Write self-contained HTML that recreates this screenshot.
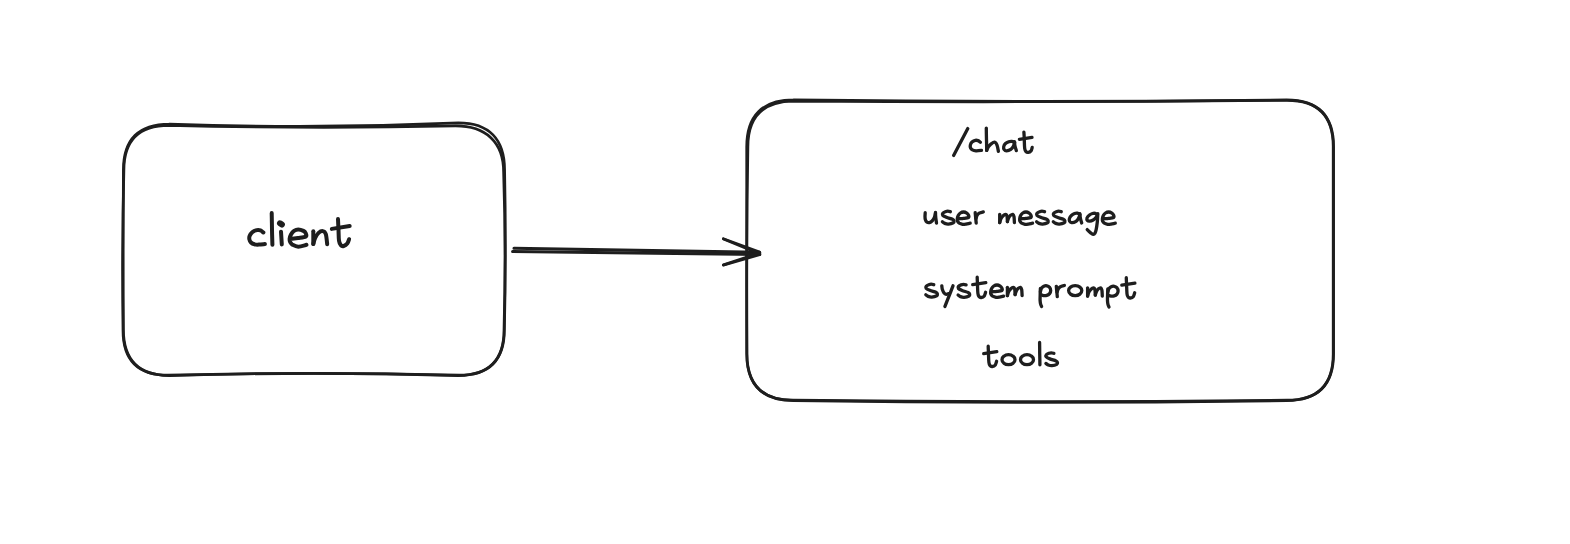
<!DOCTYPE html>
<html lang="en">
<head>
<meta charset="utf-8">
<title>client to /chat diagram</title>
<style>
html,body{margin:0;padding:0;background:#ffffff;}
body{width:1570px;height:544px;overflow:hidden;font-family:"Liberation Sans",sans-serif;}
svg{display:block;}
</style>
</head>
<body>
<svg width="1570" height="544" viewBox="0 0 1570 544" role="img" aria-label="client arrow to /chat: user message, system prompt, tools">
<rect width="1570" height="544" fill="#ffffff"/>
<g fill="none" stroke="#1e1e1e" stroke-linecap="round" stroke-linejoin="round">
<g stroke-width="2.7">
<path d="M169.4 124.0Q313.9 129.2 458.4 122.8C489.1 122.8 504.6 139.3 504.6 170.0Q506.2 249.8 504.4 329.6C504.4 360.3 489.1 375.6 458.4 375.6Q313.9 371.2 169.4 375.6C138.7 375.6 123.4 360.3 123.4 329.6Q123.0 249.8 123.4 170.0C123.4 139.3 138.7 124.0 169.4 124.0"/>
<path d="M168.8 125.4Q313.5 128.9 455.6 125.9C485.6 125.9 503.6 141.9 503.6 171.9Q506.2 249.8 504.0 330.2C504.0 360.2 489.0 375.2 459.0 375.2Q313.5 371.4 168.0 375.2C138.0 375.2 123.0 360.2 123.0 330.2Q121.8 249.8 123.9 170.0C123.9 140.0 138.8 125.4 168.8 125.4"/>
<path d="M793.7 99.9Q1040.2 102.9 1286.6 99.9C1317.9 99.9 1333.6 115.6 1333.6 146.9Q1333.2 250.2 1333.6 353.6C1333.6 384.9 1317.9 400.6 1286.6 400.6Q1040.2 404.2 793.7 400.6C762.4 400.6 746.7 384.9 746.7 353.6Q746.5 250.2 746.7 146.9C746.7 115.6 762.4 99.9 793.7 99.9"/>
<path d="M793.8 101.2Q1040.1 102.7 1287.2 100.3C1317.9 100.3 1333.2 115.6 1333.2 146.3Q1333.6 250.2 1333.2 354.2C1333.2 384.9 1317.9 400.2 1287.2 400.2Q1040.1 403.2 793.0 400.2C762.3 400.2 747.0 384.9 747.0 354.2Q746.2 250.2 747.9 146.8C747.9 116.1 763.1 101.2 793.8 101.2"/>
</g>
<g stroke-width="3.1">
<path d="M514.0 248.3Q640 250.5 759.6 252.4"/>
<path d="M512.6 251.5Q640 252.9 759.8 254.5"/>
</g>
<g stroke-width="2.7">
<path d="M723.3 238.7L759.6 252.0"/>
<path d="M723.5 238.9L759.9 254.0"/>
<path d="M723.3 265.1L759.6 254.6"/>
<path d="M723.5 264.9L759.9 252.8"/>
</g>
</g>
<g fill="none" stroke="#1e1e1e" stroke-linecap="round" stroke-linejoin="round">
<g stroke-width="4.0">
<path d="M263.4 232.5C262.9 232.2 261.6 230.8 260.5 230.4C259.4 230.0 258.3 229.8 257.0 230.1C255.7 230.4 253.7 231.0 252.5 232.0C251.3 233.0 250.1 234.8 249.6 236.0C249.1 237.2 249.2 238.4 249.4 239.5C249.6 240.6 250.2 241.7 251.0 242.5C251.8 243.3 253.2 244.0 254.5 244.3C255.8 244.7 257.3 244.7 259.0 244.6C260.7 244.5 263.9 244.1 264.9 244.0"/>
<path d="M271.7 213.1C271.8 215.9 271.9 224.6 272.0 229.9C272.1 235.2 272.3 242.3 272.4 244.8"/>
<path d="M281.0 231.7L281.8 244.4"/>
<path d="M290.2 238.9C291.5 238.8 295.4 238.4 298.0 238.0C300.6 237.6 304.5 237.3 305.8 236.5C307.1 235.7 306.0 233.9 305.6 233.0C305.2 232.1 304.6 231.5 303.4 230.9C302.2 230.3 299.9 229.5 298.3 229.5C296.7 229.5 295.2 230.1 294.0 230.9C292.8 231.7 291.7 233.2 291.0 234.5C290.3 235.8 289.7 237.5 289.6 238.8C289.5 240.1 289.8 241.3 290.3 242.3C290.8 243.3 291.1 244.0 292.4 244.7C293.7 245.4 295.9 246.7 298.3 246.7C300.7 246.7 305.1 245.1 306.5 244.8"/>
<path d="M313.3 231.3L313.3 244.0"/>
<path d="M313.3 244.0C313.6 243.0 314.2 240.0 315.1 238.2C316.0 236.3 317.3 234.1 318.6 232.9C319.9 231.7 321.6 230.9 322.8 231.1C324.0 231.3 325.1 231.9 325.8 234.1C326.5 236.3 327.0 242.5 327.2 244.2"/>
<path d="M338.0 219.1C338.1 220.9 338.3 226.3 338.5 229.9C338.7 233.5 338.6 238.1 339.0 240.6C339.4 243.1 340.0 244.3 340.8 245.2C341.6 246.1 342.6 246.3 343.7 246.0C344.8 245.7 346.4 244.7 347.3 243.6C348.2 242.5 348.8 239.9 349.1 239.2"/>
<path d="M331.8 228.9L349.7 226.0"/>
</g>
<g stroke-width="6.0">
<path d="M280.0 223.3L281.9 224.6"/>
</g>
<g stroke-width="3.3">
<path d="M967.8 128.6L953.6 155.4"/>
<path d="M980.4 142.3C980.0 142.0 978.8 140.9 978.0 140.6C977.2 140.3 976.4 140.1 975.4 140.3C974.4 140.5 972.9 141.2 972.0 142.0C971.1 142.8 970.5 144.3 970.3 145.3C970.1 146.3 970.2 147.2 970.6 148.0C971.0 148.8 971.5 149.4 972.4 149.9C973.3 150.4 974.5 150.7 976.0 150.8C977.5 150.9 980.6 150.5 981.5 150.4"/>
<path d="M986.3 128.1C986.3 130.1 986.4 136.3 986.5 140.0C986.6 143.7 986.7 148.7 986.7 150.4"/>
<path d="M986.7 150.4C987.0 149.8 987.6 148.0 988.3 147.0C988.9 146.0 989.5 145.1 990.6 144.3C991.7 143.5 993.5 141.9 994.6 142.1C995.7 142.3 996.5 143.8 997.1 145.3C997.7 146.9 998.2 150.4 998.4 151.4"/>
<path d="M1014.8 142.6C1014.3 142.4 1012.8 141.5 1011.8 141.4C1010.8 141.3 1009.8 141.4 1008.8 141.8C1007.8 142.2 1006.4 142.8 1005.5 143.6C1004.6 144.4 1003.9 145.8 1003.7 146.8C1003.5 147.8 1003.7 148.9 1004.2 149.6C1004.7 150.3 1005.4 150.8 1006.5 150.8C1007.6 150.8 1009.6 150.2 1010.8 149.4C1012.0 148.6 1012.9 147.2 1013.5 146.0C1014.1 144.8 1014.4 143.0 1014.6 142.4"/>
<path d="M1014.3 141.6C1014.4 142.3 1014.7 144.5 1015.0 146.0C1015.3 147.5 1016.1 149.8 1016.3 150.6"/>
<path d="M1023.9 132.2C1024.0 133.5 1024.2 137.3 1024.3 140.0C1024.4 142.7 1024.4 146.5 1024.7 148.4C1025.0 150.3 1025.4 150.9 1026.0 151.6C1026.6 152.3 1027.4 152.5 1028.2 152.4C1029.0 152.3 1030.3 151.7 1031.0 150.9C1031.7 150.1 1032.0 148.0 1032.2 147.4"/>
<path d="M1019.4 139.3L1032.0 137.4"/>
<path d="M925.2 212.7C925.2 213.3 925.0 215.3 925.0 216.5C925.0 217.7 925.1 218.9 925.4 219.8C925.7 220.8 926.3 221.7 927.0 222.2C927.7 222.7 928.5 222.8 929.4 222.6C930.3 222.4 931.4 221.7 932.2 220.8C933.0 219.9 933.9 218.7 934.4 217.4C934.9 216.1 935.3 213.7 935.5 212.9"/>
<path d="M935.5 212.5C935.5 213.4 935.6 216.2 935.8 218.0C936.0 219.8 936.4 222.2 936.5 223.1"/>
<path d="M950.4 211.7C950.0 211.6 948.6 211.2 947.8 211.2C947.0 211.2 946.2 211.4 945.4 211.7C944.6 212.0 943.3 212.6 942.8 213.2C942.3 213.8 942.0 214.5 942.6 215.2C943.2 215.9 944.8 216.6 946.4 217.3C948.0 218.0 951.2 218.7 952.5 219.3C953.8 219.9 953.9 220.4 954.0 221.0C954.1 221.6 954.2 222.3 953.3 222.8C952.4 223.3 949.8 224.0 948.4 224.1C947.0 224.2 945.8 223.8 944.8 223.4C943.8 223.0 942.8 222.1 942.4 221.8"/>
<path d="M958.5 218.9C959.3 218.8 961.8 218.6 963.5 218.4C965.2 218.2 967.7 218.0 968.5 217.5C969.3 217.0 968.8 215.9 968.5 215.2C968.2 214.5 967.6 213.6 966.8 213.1C966.0 212.6 964.7 212.0 963.6 212.0C962.5 212.0 961.3 212.4 960.4 213.0C959.5 213.6 958.7 214.7 958.2 215.6C957.7 216.5 957.4 217.7 957.3 218.6C957.2 219.5 957.2 220.4 957.5 221.2C957.8 221.9 958.4 222.6 959.2 223.1C960.1 223.6 961.5 224.1 962.6 224.3C963.7 224.5 964.7 224.3 966.0 224.1C967.3 223.9 969.5 223.3 970.2 223.2"/>
<path d="M975.2 212.7C975.3 213.6 975.5 216.3 975.7 218.0C975.9 219.7 976.1 222.2 976.2 223.1"/>
<path d="M976.0 218.6C976.2 218.1 976.5 216.4 977.0 215.5C977.5 214.6 978.2 213.8 979.2 213.2C980.2 212.6 982.6 212.1 983.3 211.9"/>
<path d="M999.7 214.3L999.7 222.6"/>
<path d="M999.7 222.6C999.9 221.9 1000.5 219.7 1001.0 218.6C1001.5 217.5 1002.1 216.7 1002.9 216.0C1003.6 215.3 1004.8 214.3 1005.5 214.3C1006.2 214.3 1006.7 214.8 1007.0 216.0C1007.3 217.2 1007.3 220.7 1007.4 221.6"/>
<path d="M1007.4 221.6C1007.6 221.0 1008.1 219.0 1008.6 218.0C1009.1 217.0 1009.6 216.2 1010.3 215.6C1011.0 215.0 1012.2 214.1 1012.8 214.3C1013.4 214.5 1013.7 215.2 1014.0 216.6C1014.3 218.0 1014.3 221.6 1014.4 222.6"/>
<path d="M1020.9 218.9C1021.7 218.8 1024.2 218.6 1025.9 218.4C1027.6 218.2 1030.1 218.0 1030.9 217.5C1031.7 217.0 1031.2 215.9 1030.9 215.2C1030.6 214.5 1030.0 213.6 1029.2 213.1C1028.4 212.6 1027.1 212.0 1026.0 212.0C1024.9 212.0 1023.7 212.4 1022.8 213.0C1021.9 213.6 1021.1 214.7 1020.6 215.6C1020.1 216.5 1019.8 217.7 1019.7 218.6C1019.6 219.5 1019.6 220.4 1019.9 221.2C1020.2 221.9 1020.8 222.6 1021.6 223.1C1022.5 223.6 1023.9 224.1 1025.0 224.3C1026.1 224.5 1027.1 224.3 1028.4 224.1C1029.7 223.9 1031.9 223.3 1032.6 223.2"/>
<path d="M1044.6 211.7C1044.2 211.6 1042.8 211.2 1042.0 211.2C1041.2 211.2 1040.4 211.4 1039.6 211.7C1038.8 212.0 1037.5 212.6 1037.0 213.2C1036.5 213.8 1036.2 214.5 1036.8 215.2C1037.4 215.9 1038.9 216.6 1040.6 217.3C1042.2 218.0 1045.4 218.7 1046.7 219.3C1048.0 219.9 1048.1 220.4 1048.2 221.0C1048.3 221.6 1048.4 222.3 1047.5 222.8C1046.6 223.3 1044.0 224.0 1042.6 224.1C1041.2 224.2 1040.0 223.8 1039.0 223.4C1038.0 223.0 1037.0 222.1 1036.6 221.8"/>
<path d="M1061.3 211.7C1060.9 211.6 1059.5 211.2 1058.7 211.2C1057.9 211.2 1057.1 211.4 1056.3 211.7C1055.5 212.0 1054.2 212.6 1053.7 213.2C1053.2 213.8 1052.9 214.5 1053.5 215.2C1054.1 215.9 1055.6 216.6 1057.3 217.3C1059.0 218.0 1062.1 218.7 1063.4 219.3C1064.7 219.9 1064.8 220.4 1064.9 221.0C1065.0 221.6 1065.1 222.3 1064.2 222.8C1063.3 223.3 1060.7 224.0 1059.3 224.1C1057.9 224.2 1056.7 223.8 1055.7 223.4C1054.7 223.0 1053.7 222.1 1053.3 221.8"/>
<path d="M1080.0 214.6C1079.6 214.4 1078.3 213.4 1077.4 213.2C1076.5 213.0 1075.6 213.1 1074.6 213.5C1073.6 213.9 1072.3 214.6 1071.4 215.4C1070.5 216.2 1069.7 217.6 1069.4 218.6C1069.1 219.6 1069.2 220.5 1069.6 221.2C1070.0 221.9 1070.6 222.5 1071.6 222.6C1072.6 222.7 1074.5 222.3 1075.6 221.6C1076.7 220.9 1077.7 219.8 1078.4 218.6C1079.1 217.4 1079.7 215.3 1079.9 214.6"/>
<path d="M1079.8 213.6C1079.9 214.4 1080.1 216.8 1080.4 218.4C1080.7 220.0 1081.5 222.2 1081.7 223.0"/>
<path d="M1097.5 214.8C1097.1 214.6 1096.0 213.6 1095.2 213.4C1094.4 213.2 1093.5 213.2 1092.5 213.5C1091.5 213.8 1090.1 214.4 1089.2 215.2C1088.3 215.9 1087.3 217.1 1087.0 218.0C1086.7 218.9 1087.0 219.9 1087.4 220.4C1087.8 220.9 1088.6 221.3 1089.6 221.2C1090.6 221.1 1092.1 220.6 1093.2 220.0C1094.3 219.4 1095.3 218.3 1096.0 217.4C1096.7 216.5 1097.2 215.1 1097.5 214.6"/>
<path d="M1097.8 213.6C1097.7 215.0 1097.6 219.4 1097.3 222.0C1097.0 224.6 1096.6 227.5 1096.2 229.4C1095.8 231.3 1095.5 232.4 1095.0 233.2C1094.5 234.0 1094.0 234.5 1093.2 234.4C1092.4 234.3 1091.4 233.4 1090.4 232.6C1089.4 231.8 1087.7 230.1 1087.2 229.6"/>
<path d="M1103.6 218.9C1104.4 218.8 1106.9 218.6 1108.6 218.4C1110.3 218.2 1112.8 218.0 1113.6 217.5C1114.4 217.0 1113.9 215.9 1113.6 215.2C1113.3 214.5 1112.7 213.6 1111.9 213.1C1111.1 212.6 1109.8 212.0 1108.7 212.0C1107.6 212.0 1106.4 212.4 1105.5 213.0C1104.6 213.6 1103.8 214.7 1103.3 215.6C1102.8 216.5 1102.5 217.7 1102.4 218.6C1102.3 219.5 1102.3 220.4 1102.6 221.2C1102.9 221.9 1103.5 222.6 1104.3 223.1C1105.1 223.6 1106.6 224.1 1107.7 224.3C1108.8 224.5 1109.8 224.3 1111.1 224.1C1112.4 223.9 1114.6 223.3 1115.3 223.2"/>
<path d="M933.8 284.7C933.4 284.6 932.0 284.2 931.2 284.2C930.4 284.2 929.6 284.4 928.8 284.7C928.0 285.0 926.7 285.6 926.2 286.2C925.7 286.8 925.4 287.5 926.0 288.2C926.6 288.9 928.1 289.6 929.8 290.3C931.4 291.0 934.6 291.7 935.9 292.3C937.2 292.9 937.3 293.4 937.4 294.0C937.5 294.6 937.6 295.3 936.7 295.8C935.8 296.3 933.2 297.0 931.8 297.1C930.4 297.2 929.2 296.8 928.2 296.4C927.2 296.0 926.2 295.1 925.8 294.8"/>
<path d="M941.8 285.8C941.9 286.4 942.0 288.4 942.4 289.6C942.8 290.8 943.3 292.0 943.9 292.8C944.5 293.6 945.4 294.3 946.2 294.4C947.0 294.5 948.2 293.7 948.6 293.6"/>
<path d="M953.0 285.8C952.6 286.9 951.3 290.3 950.4 292.6C949.5 294.9 948.5 297.3 947.6 299.6C946.7 301.9 945.4 305.4 944.9 306.5"/>
<path d="M966.1 284.9C965.7 284.8 964.3 284.4 963.5 284.4C962.7 284.4 961.9 284.6 961.1 284.9C960.3 285.2 959.0 285.8 958.5 286.4C958.0 287.0 957.7 287.7 958.3 288.4C958.9 289.1 960.5 289.8 962.1 290.5C963.8 291.2 966.9 291.9 968.2 292.5C969.5 293.1 969.6 293.6 969.7 294.2C969.8 294.8 969.9 295.5 969.0 296.0C968.1 296.5 965.5 297.2 964.1 297.3C962.7 297.4 961.5 297.0 960.5 296.6C959.5 296.2 958.5 295.3 958.1 295.0"/>
<path d="M977.2 277.2C977.2 278.5 977.4 282.3 977.5 285.0C977.6 287.7 977.6 291.4 977.9 293.3C978.1 295.2 978.5 295.8 979.0 296.5C979.5 297.2 980.3 297.6 981.2 297.5C982.1 297.4 983.6 296.8 984.3 295.9C985.0 295.0 985.4 292.9 985.6 292.3"/>
<path d="M972.7 284.7L985.8 282.7"/>
<path d="M991.9 291.9C992.7 291.8 995.2 291.6 996.9 291.4C998.6 291.2 1001.1 291.0 1001.9 290.5C1002.7 290.0 1002.2 288.9 1001.9 288.2C1001.6 287.5 1001.0 286.6 1000.2 286.1C999.4 285.6 998.1 285.0 997.0 285.0C995.9 285.0 994.7 285.4 993.8 286.0C992.9 286.6 992.1 287.7 991.6 288.6C991.1 289.5 990.8 290.7 990.7 291.6C990.6 292.5 990.6 293.5 990.9 294.2C991.2 295.0 991.8 295.6 992.6 296.1C993.5 296.6 994.9 297.1 996.0 297.3C997.1 297.5 998.1 297.3 999.4 297.1C1000.7 296.9 1002.9 296.4 1003.6 296.2"/>
<path d="M1007.4 287.3L1007.4 295.6"/>
<path d="M1007.4 295.6C1007.6 294.9 1008.2 292.7 1008.7 291.6C1009.2 290.5 1009.8 289.7 1010.6 289.0C1011.3 288.3 1012.5 287.3 1013.2 287.3C1013.9 287.3 1014.4 287.8 1014.7 289.0C1015.0 290.2 1015.0 293.7 1015.1 294.6"/>
<path d="M1015.1 294.6C1015.3 294.0 1015.8 292.0 1016.3 291.0C1016.8 290.0 1017.3 289.2 1018.0 288.6C1018.7 288.0 1019.9 287.1 1020.5 287.3C1021.1 287.5 1021.4 288.2 1021.7 289.6C1022.0 291.0 1022.0 294.6 1022.1 295.6"/>
<path d="M1040.4 288.3C1040.4 289.2 1040.2 292.0 1040.2 294.0C1040.2 296.0 1040.0 298.7 1040.1 300.4C1040.2 302.1 1040.3 303.0 1040.6 304.0C1040.8 305.0 1041.4 306.1 1041.6 306.5"/>
<path d="M1040.4 291.6C1040.6 291.0 1041.0 289.1 1041.6 288.2C1042.2 287.3 1042.9 286.6 1043.8 286.2C1044.7 285.8 1045.9 285.6 1046.8 285.8C1047.7 286.0 1048.8 286.4 1049.4 287.2C1050.1 288.0 1050.7 289.5 1050.7 290.6C1050.7 291.7 1050.3 292.8 1049.6 293.6C1048.9 294.4 1047.7 295.1 1046.7 295.4C1045.7 295.7 1044.6 295.7 1043.6 295.6C1042.6 295.5 1041.3 294.8 1040.8 294.6"/>
<path d="M1056.3 286.3C1056.4 287.2 1056.6 289.9 1056.8 291.6C1057.0 293.3 1057.2 295.9 1057.3 296.7"/>
<path d="M1057.1 292.2C1057.3 291.7 1057.6 290.0 1058.1 289.1C1058.6 288.2 1059.2 287.4 1060.3 286.8C1061.3 286.2 1063.7 285.7 1064.4 285.5"/>
<path d="M1087.6 287.8L1087.6 296.1"/>
<path d="M1087.6 296.1C1087.8 295.4 1088.4 293.2 1088.9 292.1C1089.4 291.0 1090.0 290.2 1090.8 289.5C1091.5 288.8 1092.7 287.8 1093.4 287.8C1094.1 287.8 1094.6 288.3 1094.9 289.5C1095.2 290.7 1095.2 294.2 1095.3 295.1"/>
<path d="M1095.3 295.1C1095.5 294.5 1096.0 292.5 1096.5 291.5C1097.0 290.5 1097.5 289.7 1098.2 289.1C1098.9 288.5 1100.1 287.6 1100.7 287.8C1101.3 288.0 1101.6 288.7 1101.9 290.1C1102.2 291.5 1102.2 295.1 1102.3 296.1"/>
<path d="M1107.8 288.8C1107.8 289.8 1107.6 292.5 1107.6 294.5C1107.5 296.5 1107.4 299.2 1107.5 300.9C1107.6 302.6 1107.7 303.5 1108.0 304.5C1108.2 305.5 1108.8 306.6 1109.0 307.0"/>
<path d="M1107.8 292.1C1108.0 291.5 1108.4 289.6 1109.0 288.7C1109.6 287.8 1110.3 287.1 1111.2 286.7C1112.1 286.3 1113.3 286.1 1114.2 286.3C1115.1 286.5 1116.1 286.9 1116.8 287.7C1117.5 288.5 1118.1 290.0 1118.1 291.1C1118.1 292.2 1117.7 293.3 1117.0 294.1C1116.3 294.9 1115.1 295.6 1114.1 295.9C1113.1 296.2 1112.0 296.2 1111.0 296.1C1110.0 296.0 1108.7 295.3 1108.2 295.1"/>
<path d="M1126.3 277.7C1126.3 279.0 1126.5 282.8 1126.6 285.5C1126.7 288.2 1126.8 291.9 1127.0 293.8C1127.2 295.7 1127.5 296.3 1128.1 297.0C1128.6 297.7 1129.4 298.1 1130.3 298.0C1131.2 297.9 1132.7 297.3 1133.4 296.4C1134.1 295.5 1134.5 293.4 1134.7 292.8"/>
<path d="M1121.8 285.2L1134.9 283.2"/>
<path d="M988.2 346.2C988.2 347.5 988.4 351.3 988.5 354.0C988.6 356.7 988.6 360.4 988.9 362.3C989.1 364.2 989.5 364.8 990.0 365.5C990.5 366.2 991.3 366.6 992.2 366.5C993.1 366.4 994.6 365.8 995.3 364.9C996.0 364.0 996.4 361.9 996.6 361.3"/>
<path d="M983.7 353.7L996.8 351.7"/>
<path d="M1039.6 342.4C1039.6 344.2 1039.7 349.3 1039.7 353.0C1039.8 356.7 1039.9 362.8 1039.9 364.8"/>
<path d="M1053.9 353.3C1053.5 353.2 1052.1 352.8 1051.3 352.8C1050.5 352.8 1049.7 353.0 1048.9 353.3C1048.1 353.6 1046.8 354.2 1046.3 354.8C1045.8 355.4 1045.5 356.1 1046.1 356.8C1046.7 357.5 1048.2 358.2 1049.9 358.9C1051.6 359.6 1054.7 360.3 1056.0 360.9C1057.3 361.5 1057.4 362.0 1057.5 362.6C1057.6 363.2 1057.7 363.9 1056.8 364.4C1055.9 364.9 1053.3 365.6 1051.9 365.7C1050.5 365.8 1049.3 365.4 1048.3 365.0C1047.3 364.6 1046.3 363.7 1045.9 363.4"/>
<path d="M1081.8 290.6C1081.8 291.8 1081.0 293.3 1079.9 294.1C1078.8 295.0 1076.8 295.6 1075.2 295.6C1073.6 295.6 1071.6 295.0 1070.5 294.1C1069.4 293.3 1068.6 291.8 1068.6 290.6C1068.6 289.4 1069.4 287.9 1070.5 287.1C1071.6 286.2 1073.6 285.6 1075.2 285.6C1076.8 285.6 1078.8 286.2 1079.9 287.1C1081.0 287.9 1081.8 289.4 1081.8 290.6Z"/>
<path d="M1015.0 359.7C1015.0 360.9 1014.2 362.4 1013.1 363.2C1012.0 364.1 1010.0 364.7 1008.5 364.7C1007.0 364.7 1005.0 364.1 1003.9 363.2C1002.8 362.4 1002.0 360.9 1002.0 359.7C1002.0 358.5 1002.8 357.0 1003.9 356.2C1005.0 355.3 1007.0 354.7 1008.5 354.7C1010.0 354.7 1012.0 355.3 1013.1 356.2C1014.2 357.0 1015.0 358.5 1015.0 359.7Z"/>
<path d="M1033.5 359.7C1033.5 360.9 1032.7 362.4 1031.6 363.2C1030.5 364.1 1028.5 364.7 1027.0 364.7C1025.5 364.7 1023.5 364.1 1022.4 363.2C1021.3 362.4 1020.5 360.9 1020.5 359.7C1020.5 358.5 1021.3 357.0 1022.4 356.2C1023.5 355.3 1025.5 354.7 1027.0 354.7C1028.5 354.7 1030.5 355.3 1031.6 356.2C1032.7 357.0 1033.5 358.5 1033.5 359.7Z"/>
</g>
</g>
</svg>
</body>
</html>
